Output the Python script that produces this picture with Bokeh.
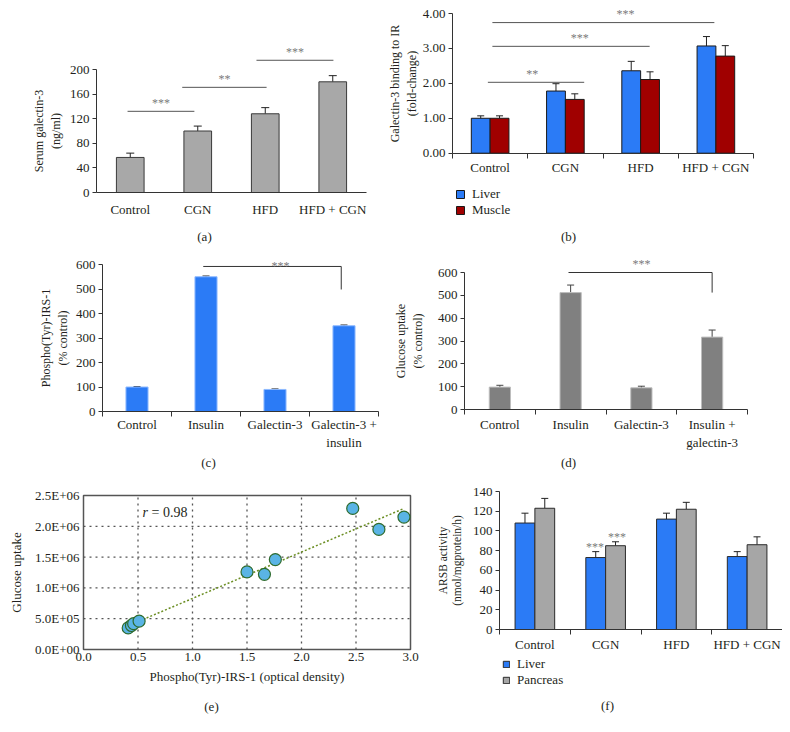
import numpy as np
from bokeh.plotting import figure
from bokeh.models import (FixedTicker, Range1d, Legend, LegendItem, ColumnDataSource,
                          Whisker, TeeHead, Label, NumeralTickFormatter, CustomJSTickFormatter)
from bokeh.layouts import column, row
from bokeh.embed import file_html
from bokeh.resources import INLINE
from bokeh.core.properties import value

FONT = "Liberation Serif"
TXT = "#231f20"
FS = "13px"
LFS = "12px"

# ---------------- data ----------------
# (a)
a_cats = ["Control", "CGN", "HFD", "HFD + CGN"]
a_vals = [57, 100, 128, 180]
a_errs = [7, 8, 10, 10]
a_yticks = [0, 40, 80, 120, 160, 200]
a_sig_x0 = [0.46, 1.27, 2.37]
a_sig_x1 = [1.45, 2.52, 3.51]
a_sig_y = [132, 171, 215]
a_sig_txt = ["***", "**", "***"]

# (b)
b_cats = ["Control", "CGN", "HFD", "HFD + CGN"]
b_liver = [1.00, 1.78, 2.36, 3.07]
b_liver_err = [0.07, 0.21, 0.27, 0.27]
b_muscle = [1.00, 1.54, 2.11, 2.78]
b_muscle_err = [0.07, 0.16, 0.22, 0.30]
b_yticks = [0, 1, 2, 3, 4]
b_sig_x0 = [0.47, 0.53, 0.53]
b_sig_x1 = [1.75, 2.62, 3.48]
b_sig_y = [2.03, 3.06, 3.74]
b_sig_tx = [1.06, 1.69, 2.30]
b_sig_txt = ["**", "***", "***"]

# (c)
c_cats = ["Control", "Insulin", "Galectin-3", "Galectin-3 +\ninsulin"]
c_vals = [100, 550, 90, 350]
c_errs = [2, 3, 2, 3]
c_yticks = [0, 100, 200, 300, 400, 500, 600]
c_sig_x = [1.46, 3.46]
c_sig_y = [592, 498]
c_sig_tx = 2.58
c_sig_txt = "***"

# (d)
d_cats = ["Control", "Insulin", "Galectin-3", "Insulin +\ngalectin-3"]
d_vals = [98, 512, 95, 317]
d_errs = [8, 33, 7, 31]
d_yticks = [0, 100, 200, 300, 400, 500, 600]
d_sig_x = [1.47, 3.50]
d_sig_y = [600, 512]
d_sig_tx = 2.5
d_sig_txt = "***"

# (e)
e_x = [0.41, 0.44, 0.46, 0.51, 1.50, 1.66, 1.76, 2.47, 2.71, 2.94]
e_y = [0.35e6, 0.39e6, 0.42e6, 0.46e6, 1.26e6, 1.22e6, 1.46e6, 2.29e6, 1.95e6, 2.15e6]
e_xticks = [0.0, 0.5, 1.0, 1.5, 2.0, 2.5, 3.0]
e_yticks = [0.0, 0.5e6, 1.0e6, 1.5e6, 2.0e6, 2.5e6]
e_r_text = "= 0.98"

# (f)
f_cats = ["Control", "CGN", "HFD", "HFD + CGN"]
f_liver = [108, 73, 112, 74]
f_liver_err = [10, 6, 6, 5]
f_panc = [123, 85, 122, 86]
f_panc_err = [10, 4, 7, 8]
f_yticks = [0, 20, 40, 60, 80, 100, 120, 140]
f_sig_x = [1.35, 1.66]
f_sig_y = [84, 94]
f_sig_txt = ["***", "***"]

BLUE = "#2b7bf6"
RED = "#a00000"


def make_fig(ox, oy, w, h, X0, X1, xmin, xmax, Y0, Y1, ymin, ymax):
    """Figure whose frame fills the whole canvas; axes are pinned inside it."""
    xs = (X1 - X0) / (xmax - xmin)
    ys = (Y0 - Y1) / (ymax - ymin)
    xs0 = xmin - (X0 - ox) / xs
    ys0 = ymin - (oy + h - Y0) / ys
    p = figure(width=w, height=h, x_range=Range1d(xs0, xs0 + w / xs), y_range=Range1d(ys0, ys0 + h / ys),
               min_border_left=0, min_border_right=0, min_border_top=0, min_border_bottom=0,
               output_backend="svg", toolbar_location=None)
    p.title.visible = False
    p.outline_line_color = None
    p.grid.visible = False
    for ax in p.axis:
        ax.major_label_text_font = FONT
        ax.major_label_text_font_size = FS
        ax.major_label_text_color = TXT
        ax.axis_label_text_font = FONT
        ax.axis_label_text_font_size = LFS
        ax.axis_label_text_font_style = "normal"
        ax.axis_label_text_color = TXT
        ax.axis_line_color = "#333333"
        ax.major_tick_line_color = "#333333"
        ax.minor_tick_line_color = None
    p.xaxis[0].fixed_location = ymin
    p.yaxis[0].fixed_location = xmin
    p.xaxis[0].bounds = (xmin, xmax)
    p.yaxis[0].bounds = (ymin, ymax)
    p.yaxis.major_tick_out = 4
    p.yaxis.major_tick_in = 0
    p.yaxis.major_label_standoff = 3

    def px(page_x):
        return xmin + (page_x - X0) / xs

    def py(page_y):
        return ymin + (Y0 - page_y) / ys
    return p, px, py


def cat_axis(p, cats, standoff, boundary_ticks=True):
    n = len(cats)
    centers = [i + 0.5 for i in range(n)]
    p.xaxis.ticker = FixedTicker(ticks=centers, minor_ticks=list(range(n + 1)) if boundary_ticks else [])
    p.xaxis.major_label_overrides = {c: lab for c, lab in zip(centers, cats)}
    p.xaxis.major_tick_line_color = None
    p.xaxis.major_tick_out = 0
    p.xaxis.major_tick_in = 0
    p.xaxis.major_label_standoff = standoff
    if boundary_ticks:
        p.xaxis.minor_tick_line_color = "#333333"
        p.xaxis.minor_tick_out = 5
        p.xaxis.minor_tick_in = 0
    return centers


def caption(p, x, y, text):
    p.add_layout(Label(x=x, y=y, text=text, text_font=FONT, text_font_size=FS, text_color=TXT,
                       text_align="center", text_baseline="middle"))


def whisk(p, x, base, err, color="#222222", size=8):
    src = ColumnDataSource(dict(x=x, lo=base, hi=[b + e for b, e in zip(base, err)]))
    w = Whisker(base="x", upper="hi", lower="lo", source=src, line_color=color, line_width=1,
                upper_head=TeeHead(size=size, line_color=color, line_width=1), lower_head=None)
    p.add_layout(w)


def stars(p, x, y, txt, baseline="bottom"):
    p.text(x=x, y=y, text=txt, text_font=value(FONT), text_font_size="12px", text_color="#7a7a7a",
           text_align="center", text_baseline=baseline)


def legend(p, items, loc, gsize):
    lg = Legend(items=items, location=loc, orientation="vertical", glyph_width=gsize, glyph_height=gsize,
                label_text_font=FONT, label_text_font_size=FS, label_text_color=TXT,
                spacing=0, padding=0, margin=0, border_line_color=None, background_fill_alpha=0,
                label_standoff=7, label_height=16)
    p.add_layout(lg, "center")


# ---------------- (a) ----------------
pa, ax_, ay_ = make_fig(0, 0, 380, 248, 96, 366, 0, 4, 192, 69, 0, 200)
pa.yaxis.ticker = FixedTicker(ticks=a_yticks)
xa = cat_axis(pa, a_cats, 9, boundary_ticks=False)
pa.vbar(x=xa, top=a_vals, width=0.41, fill_color="#a8a8a8", line_color="#3a3a3a", line_width=1)
whisk(pa, xa, a_vals, a_errs)
pa.segment(x0=a_sig_x0, x1=a_sig_x1, y0=a_sig_y, y1=a_sig_y, line_color="#555555", line_width=1)
stars(pa, [(u + v) / 2 for u, v in zip(a_sig_x0, a_sig_x1)], [y + 2 for y in a_sig_y], a_sig_txt)
pa.yaxis.axis_label = "Serum galectin-3\n(ng/ml)"
pa.yaxis.axis_label_standoff = 4
caption(pa, ax_(204), ay_(236), "(a)")

# ---------------- (b) ----------------
pb, bx_, by_ = make_fig(380, 0, 402, 248, 452, 753, 0, 4, 152.7, 13, 0, 4)
pb.yaxis.ticker = FixedTicker(ticks=b_yticks)
pb.yaxis.formatter = NumeralTickFormatter(format="0.00")
xb = cat_axis(pb, b_cats, 2)
xl = [c - 0.125 for c in xb]
xm = [c + 0.125 for c in xb]
rl = pb.vbar(x=xl, top=b_liver, width=0.25, fill_color=BLUE, line_color="#1a1a1a", line_width=1)
rm = pb.vbar(x=xm, top=b_muscle, width=0.25, fill_color=RED, line_color="#1a1a1a", line_width=1)
whisk(pb, xl, b_liver, b_liver_err, size=7)
whisk(pb, xm, b_muscle, b_muscle_err, size=7)
pb.segment(x0=b_sig_x0, x1=b_sig_x1, y0=b_sig_y, y1=b_sig_y, line_color="#555555", line_width=1)
stars(pb, b_sig_tx, [y + 0.04 for y in b_sig_y], b_sig_txt)
pb.yaxis.axis_label = "Galectin-3 binding to IR\n(fold-change)"
pb.yaxis.axis_label_standoff = 1
legend(pb, [LegendItem(label="Liver", renderers=[rl]), LegendItem(label="Muscle", renderers=[rm])],
       (75, 30), 10)
caption(pb, bx_(568), by_(236), "(b)")

# ---------------- (c) ----------------
pc, cx_, cy_ = make_fig(0, 248, 380, 222, 102, 378, 0, 4, 411, 264, 0, 600)
pc.yaxis.ticker = FixedTicker(ticks=c_yticks)
xc = cat_axis(pc, c_cats, 0)
pc.vbar(x=xc, top=c_vals, width=0.32, fill_color=BLUE, line_color="#8fbaff", line_width=1)
whisk(pc, xc, c_vals, c_errs, size=7)
pc.line(x=[c_sig_x[0], c_sig_x[1], c_sig_x[1]], y=[c_sig_y[0], c_sig_y[0], c_sig_y[1]],
        line_color="#333333", line_width=1)
stars(pc, [c_sig_tx], [c_sig_y[0] + 2], [c_sig_txt], baseline="middle")
pc.yaxis.axis_label = "Phospho(Tyr)-IRS-1\n(% control)"
pc.yaxis.axis_label_standoff = 3
caption(pc, cx_(208), cy_(462), "(c)")

# ---------------- (d) ----------------
pd_, dx_, dy_ = make_fig(380, 248, 402, 222, 464, 747, 0, 4, 409, 272, 0, 600)
pd_.yaxis.ticker = FixedTicker(ticks=d_yticks)
xd = cat_axis(pd_, d_cats, 2)
pd_.vbar(x=xd, top=d_vals, width=0.3, fill_color="#808080", line_color="#bdbdbd", line_width=1)
whisk(pd_, xd, d_vals, d_errs, color="#444444", size=7)
pd_.line(x=[d_sig_x[0], d_sig_x[1], d_sig_x[1]], y=[d_sig_y[0], d_sig_y[0], d_sig_y[1]],
         line_color="#333333", line_width=1)
stars(pd_, [d_sig_tx], [d_sig_y[0] + 8], [d_sig_txt])
pd_.yaxis.axis_label = "Glucose uptake\n(% control)"
pd_.yaxis.axis_label_standoff = 10
caption(pd_, dx_(568), dy_(462), "(d)")

# ---------------- (e) ----------------
pe, ex_, ey_ = make_fig(0, 470, 420, 254, 83, 410, e_xticks[0], e_xticks[-1], 649, 495, e_yticks[0], e_yticks[-1])
pe.xaxis.ticker = FixedTicker(ticks=e_xticks)
pe.yaxis.ticker = FixedTicker(ticks=e_yticks)
pe.xaxis.formatter = NumeralTickFormatter(format="0.0")
pe.yaxis.formatter = CustomJSTickFormatter(code="return tick.toExponential(1).replace('e+', 'E+0');")
for axx in pe.axis:
    axx.major_tick_line_color = None
    axx.major_tick_out = 0
    axx.axis_line_color = None
pe.xaxis.major_label_standoff = 3
pe.yaxis.major_label_standoff = 4
pe.xaxis.axis_label = "Phospho(Tyr)-IRS-1 (optical density)"
pe.xaxis.axis_label_text_font_size = FS
pe.yaxis.axis_label = "Glucose uptake"
pe.yaxis.axis_label_text_font_size = FS
pe.xaxis.axis_label_standoff = 5
pe.yaxis.axis_label_standoff = 8
# dotted grid at the interior ticks, box around the data area
gx = e_xticks[1:-1]
gy = e_yticks[1:-1]
pe.segment(x0=gx, x1=gx, y0=[e_yticks[0]] * len(gx), y1=[e_yticks[-1]] * len(gx),
           line_color="#555555", line_dash="2 4", line_width=1.3)
pe.segment(x0=[e_xticks[0]] * len(gy), x1=[e_xticks[-1]] * len(gy), y0=gy, y1=gy,
           line_color="#555555", line_dash="2 4", line_width=1.3)
pe.quad(left=[e_xticks[0]], right=[e_xticks[-1]], bottom=[e_yticks[0]], top=[e_yticks[-1]],
        fill_color=None, line_color="#555555", line_width=1.5)
slope, icpt = np.polyfit(e_x, e_y, 1)
fx = [min(e_x), max(e_x)]
pe.line(x=fx, y=[slope * v + icpt for v in fx], line_color="#6b8e23", line_dash="2 2", line_width=1.5)
pe.scatter(x=e_x, y=e_y, size=12, fill_color="#5ab4e5", line_color="#2e6b2e", line_width=1.2)
pe.add_layout(Label(x=ex_(142), y=ey_(512), text="r", text_font=FONT, text_font_size="14px",
                    text_font_style="italic", text_color=TXT, text_baseline="middle"))
pe.add_layout(Label(x=ex_(142), y=ey_(512), x_offset=9, text=e_r_text, text_font=FONT, text_font_size="14px",
                    text_color=TXT, text_baseline="middle"))
caption(pe, ex_(211), ey_(706), "(e)")

# ---------------- (f) ----------------
pf, fx_, fy_ = make_fig(420, 470, 362, 254, 499, 782, 0, 4, 629, 491, 0, 140)
pf.yaxis.ticker = FixedTicker(ticks=f_yticks)
xf = cat_axis(pf, f_cats, 2)
xfl = [c - 0.14 for c in xf]
xfp = [c + 0.14 for c in xf]
rfl = pf.vbar(x=xfl, top=f_liver, width=0.28, fill_color=BLUE, line_color="#2a2a2a", line_width=1)
rfp = pf.vbar(x=xfp, top=f_panc, width=0.28, fill_color="#a6a6a6", line_color="#2a2a2a", line_width=1)
whisk(pf, xfl, f_liver, f_liver_err, size=7)
whisk(pf, xfp, f_panc, f_panc_err, size=7)
stars(pf, f_sig_x, f_sig_y, f_sig_txt, baseline="middle")
pf.yaxis.axis_label = "ARSB activity\n(nmol/mgprotein/h)"
pf.yaxis.axis_label_text_font_size = "11.5px"
pf.yaxis.axis_label_standoff = 7
legend(pf, [LegendItem(label="Liver", renderers=[rfl]), LegendItem(label="Pancreas", renderers=[rfp])],
       (82, 36), 8)
caption(pf, fx_(607), fy_(705), "(f)")

layout = column(row(pa, pb), row(pc, pd_), row(pe, pf))
open("out.html", "w").write(file_html(layout, INLINE))
